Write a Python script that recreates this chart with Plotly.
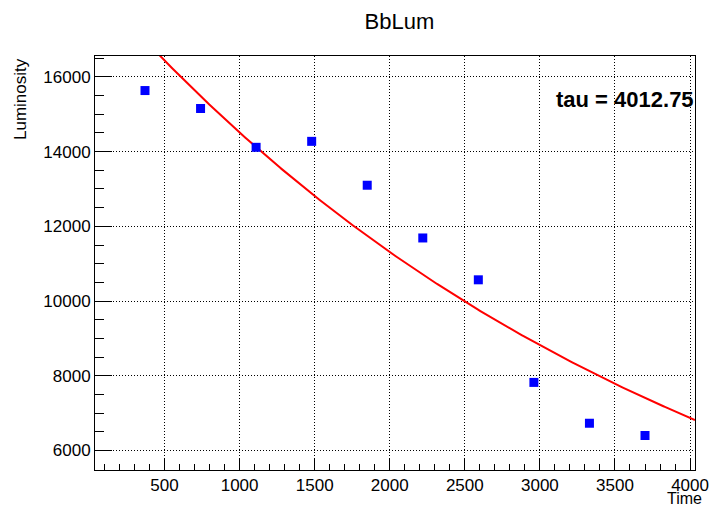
import numpy as np
import plotly.graph_objects as go

# Data
time_vals = [370, 740, 1110, 1480, 1850, 2220, 2590, 2960, 3330, 3700]
lum_vals = [15635, 15155, 14115, 14275, 13100, 11688, 10568, 7821, 6728, 6400]

# Fit parameters (exponential decay)
fit_A = 18620.0
fit_tau = 4012.75
x_range = [37, 4033]
y_range = [5476, 16560]

fit_x = np.linspace(x_range[0], x_range[1], 400)
fit_y = fit_A * np.exp(-fit_x / fit_tau)

FONT = "Liberation Sans, Arial, Helvetica, sans-serif"

fig = go.Figure()
fig.add_trace(go.Scatter(x=fit_x, y=fit_y, mode="lines",
                         line=dict(color="#ff0000", width=2), showlegend=False,
                         hoverinfo="skip"))
fig.add_trace(go.Scatter(x=time_vals, y=lum_vals, mode="markers",
                         marker=dict(symbol="square", size=9, color="#0000ff",
                                     line=dict(width=0)),
                         showlegend=False))

fig.update_layout(
    width=721, height=507,
    margin=dict(l=95, r=17, t=56, b=36),
    paper_bgcolor="white", plot_bgcolor="white",
    font=dict(family=FONT, size=17, color="black"),
    title=dict(text="BbLum", x=0.554, xanchor="center", y=0.958, yanchor="middle",
               font=dict(family=FONT, size=22, color="black")),
)

fig.update_xaxes(
    range=x_range, showline=True, linecolor="black", linewidth=1, mirror=True,
    ticks="inside", ticklen=12, tickcolor="black", tickwidth=1,
    tick0=0, dtick=500, tickformat="d",
    showgrid=True, gridcolor="black", gridwidth=1, griddash="1px,2px",
    zeroline=False,
    minor=dict(ticks="inside", ticklen=6, dtick=100, tick0=0, tickcolor="black",
               showgrid=False),
    tickfont=dict(family=FONT, size=17, color="black"),
)
fig.update_yaxes(
    range=y_range, showline=True, linecolor="black", linewidth=1, mirror=True,
    ticks="inside", ticklen=17, tickcolor="black", tickwidth=1,
    tick0=0, dtick=2000, tickformat="d",
    showgrid=True, gridcolor="black", gridwidth=1, griddash="1px,2px",
    zeroline=False,
    minor=dict(ticks="inside", ticklen=9, dtick=500, tick0=0, tickcolor="black",
               showgrid=False),
    tickfont=dict(family=FONT, size=17, color="black"),
)

fig.add_annotation(text="tau = 4012.75", xref="paper", yref="paper",
                   x=1.002, y=0.895, xanchor="right", yanchor="middle",
                   showarrow=False,
                   font=dict(family=FONT, size=22, color="black", weight="bold"))
fig.add_annotation(text="Time", xref="paper", yref="paper",
                   x=1.015, y=-0.069, xanchor="right", yanchor="middle",
                   showarrow=False, font=dict(family=FONT, size=16, color="black"))
fig.add_annotation(text="Luminosity", xref="paper", yref="paper",
                   x=-0.125, y=1.0, xanchor="center", yanchor="top",
                   textangle=-90, showarrow=False,
                   font=dict(family=FONT, size=17, color="black"))

fig.write_html("out.html")
